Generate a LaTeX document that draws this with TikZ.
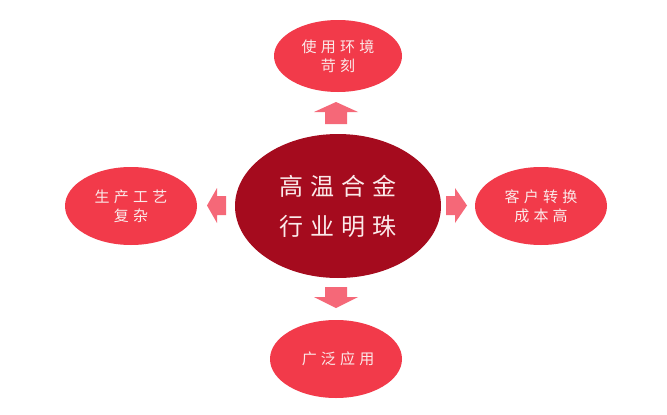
\documentclass[tikz,border=0pt]{standalone}
\usepackage{fontspec}
\newfontfamily\cjkmain[LetterSpace=28]{Noto Sans CJK SC}
\newfontfamily\cjkside[LetterSpace=28]{Noto Sans CJK SC}
\newcommand{\ls}{\hspace{-0.28em}}
\definecolor{darkred}{HTML}{A50B1E}
\definecolor{sidered}{HTML}{F23A4A}
\definecolor{arrowpink}{HTML}{F56878}
\definecolor{textwhite}{HTML}{FBEAEA}
\tikzset{
  sideell/.style={ellipse, fill=sidered, minimum width=132pt, minimum height=78pt, inner sep=0pt, text=textwhite, align=center, font=\cjkside\fontsize{15pt}{19pt}\selectfont},
  mainell/.style={ellipse, fill=darkred, minimum width=206pt, minimum height=144pt, inner sep=0pt, text=textwhite, align=center, font=\cjkmain\fontsize{24pt}{40pt}\selectfont},
  arrowshape/.style={fill=arrowpink, draw=none}
}
\usetikzlibrary{shapes.geometric}
\begin{document}
\begin{tikzpicture}[x=1pt,y=-1pt]
\useasboundingbox (0,0) rectangle (667,415);
\fill[white] (0,0) rectangle (667,415);
\node[mainell] (center) at (338,206) {高温合金\ls\\行业明珠\ls};
\node[sideell, minimum width=128pt, minimum height=72pt] (top) at (338,56) {使用环境\ls\\苛刻\ls};
\node[sideell] (left) at (131,206) {生产工艺\ls\\复杂\ls};
\node[sideell] (right) at (541,206) {客户转换\ls\\成本高\ls};
\node[sideell] (bottom) at (336,359) {广泛应用\ls};
% arrows
\fill[arrowshape] (336,102) -- (358,112) -- (347,112) -- (347,124) -- (325,124) -- (325,112) -- (314,112) -- cycle;
\fill[arrowshape] (336,308) -- (358,297) -- (347,297) -- (347,287) -- (325,287) -- (325,297) -- (314,297) -- cycle;
\fill[arrowshape] (207,205.5) -- (217,188) -- (217,196) -- (226,196) -- (226,215) -- (217,215) -- (217,223) -- cycle;
\fill[arrowshape] (467,205.5) -- (455,188) -- (455,196) -- (446,196) -- (446,215) -- (455,215) -- (455,223) -- cycle;
\end{tikzpicture}
\end{document}
